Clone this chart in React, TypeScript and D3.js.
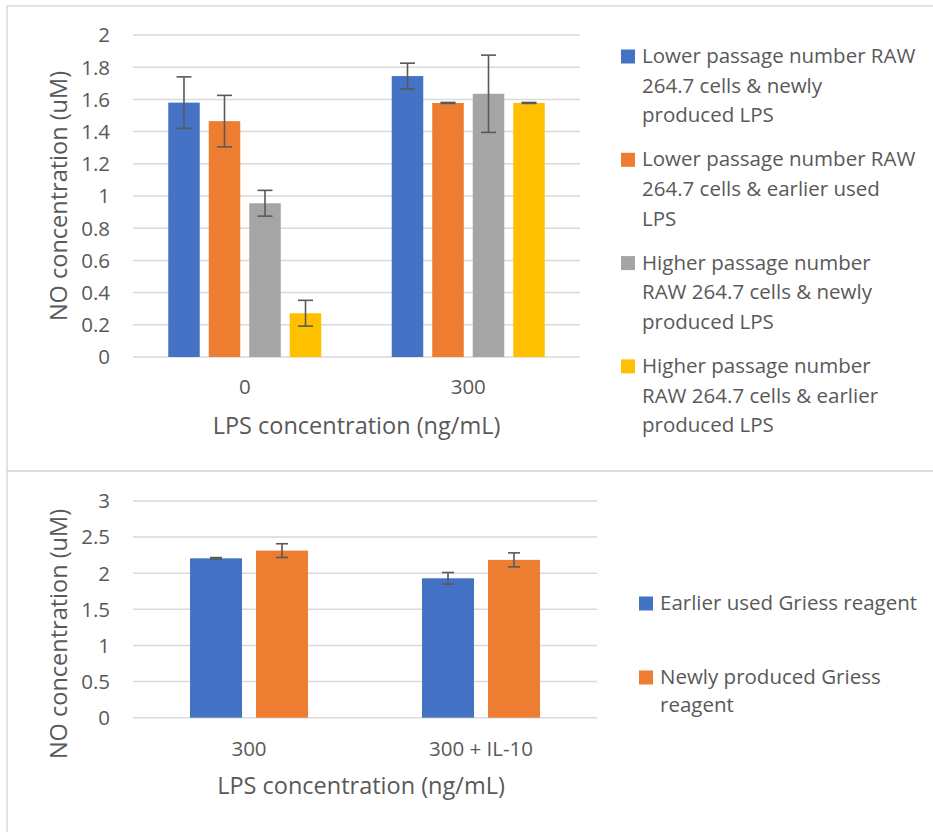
import React from "react";
import { scaleBand, scaleLinear } from "d3";

// top chart
const topCategories = ["0", "300"];
const topSeries = [
  "Lower passage number RAW 264.7 cells & newly produced LPS",
  "Lower passage number RAW 264.7 cells & earlier used LPS",
  "Higher passage number RAW 264.7 cells & newly produced LPS",
  "Higher passage number RAW 264.7 cells & earlier produced LPS",
];
const topLegendLines = [
  ["Lower passage number RAW", "264.7 cells & newly", "produced LPS"],
  ["Lower passage number RAW", "264.7 cells & earlier used", "LPS"],
  ["Higher passage number", "RAW 264.7 cells & newly", "produced LPS"],
  ["Higher passage number", "RAW 264.7 cells & earlier", "produced LPS"],
];
const topValues = [
  [1.58, 1.745],
  [1.465, 1.578],
  [0.955, 1.635],
  [0.272, 1.578],
];
const topErrors = [
  [0.16, 0.08],
  [0.16, 0.003],
  [0.08, 0.24],
  [0.08, 0.003],
];
const topTicks = [0, 0.2, 0.4, 0.6, 0.8, 1, 1.2, 1.4, 1.6, 1.8, 2];

// bottom chart
const bottomCategories = ["300", "300 + IL-10"];
const bottomSeries = ["Earlier used Griess reagent", "Newly produced Griess reagent"];
const bottomLegendLines = [["Earlier used Griess reagent"], ["Newly produced Griess", "reagent"]];
const bottomValues = [
  [2.207, 1.93],
  [2.313, 2.185],
];
const bottomErrors = [
  [0.01, 0.08],
  [0.095, 0.097],
];
const bottomTicks = [0, 0.5, 1, 1.5, 2, 2.5, 3];

const colors = ["#4472C4", "#ED7D31", "#A5A5A5", "#FFC000"];
const textColor = "#595959";
const gridColor = "#D9D9D9";
const font = "'Open Sans', sans-serif";
const fs = 20.5; // ticks, categories, legend
const titleFs = 23.5; // axis titles

function BarPanel({ categories, series, values, errors, ticks, yMax, left, right, top, bottom, capW, pi, po, yTitleY, catY, xTitleY, xTitleX }) {
  const x0 = scaleBand().domain(categories).range([left, right]).padding(0);
  const x1 = scaleBand().domain(series).range([0, x0.bandwidth()]).paddingInner(pi).paddingOuter(po);
  const y = scaleLinear().domain([0, yMax]).range([bottom, top]);
  return (
    <g>
      {ticks.map((t) => (
        <g key={t}>
          <line x1={left} x2={right} y1={y(t)} y2={y(t)} stroke={gridColor} strokeWidth={1.5} />
          <text x={110} y={y(t)} dy="0.36em" textAnchor="end" fontSize={fs} fill={textColor}>
            {t}
          </text>
        </g>
      ))}
      {series.map((s, si) =>
        categories.map((c, ci) => {
          const bx = x0(c) + x1(s);
          const v = values[si][ci];
          const e = errors[si][ci];
          const cx = bx + x1.bandwidth() / 2;
          return (
            <g key={s + c}>
              <rect x={bx} y={y(v)} width={x1.bandwidth()} height={y(0) - y(v)} fill={colors[si]} />
              <line x1={cx} x2={cx} y1={y(v + e)} y2={y(v - e)} stroke={textColor} strokeWidth={1.6} />
              <line x1={cx - capW / 2} x2={cx + capW / 2} y1={y(v + e)} y2={y(v + e)} stroke={textColor} strokeWidth={1.6} />
              <line x1={cx - capW / 2} x2={cx + capW / 2} y1={y(v - e)} y2={y(v - e)} stroke={textColor} strokeWidth={1.6} />
            </g>
          );
        })
      )}
      {categories.map((c) => (
        <text key={c} x={x0(c) + x0.bandwidth() / 2} y={catY} textAnchor="middle" fontSize={fs} fill={textColor}>
          {c}
        </text>
      ))}
      <text x={xTitleX} y={xTitleY} textAnchor="middle" fontSize={titleFs} fill={textColor}>
        LPS concentration (ng/mL)
      </text>
      <text transform={`translate(67,${yTitleY}) rotate(-90)`} textAnchor="middle" fontSize={titleFs} fill={textColor}>
        NO concentration (uM)
      </text>
    </g>
  );
}

function Legend({ lines, x, y0, step, lineH }) {
  return (
    <g>
      {lines.map((ls, i) => {
        const base = y0 + i * step;
        return (
          <g key={i}>
            <rect x={x} y={base - 13.5} width={14} height={14} fill={colors[i]} />
            {ls.map((l, j) => (
              <text key={j} x={x + 21} y={base + j * lineH} fontSize={fs} fill={textColor}>
                {l}
              </text>
            ))}
          </g>
        );
      })}
    </g>
  );
}

export default function App() {
  return (
    <svg
      width={933}
      height={832}
      style={{ position: "absolute", left: 0, top: 0, background: "#fff", fontFamily: font }}
    >
      <rect x={0} y={0} width={933} height={832} fill="#fff" />
      <rect x={7} y={6} width={940} height={465} fill="none" stroke={gridColor} strokeWidth={1.5} />
      <rect x={7} y={471} width={940} height={400} fill="none" stroke={gridColor} strokeWidth={1.5} />
      <BarPanel
        categories={topCategories}
        series={topSeries}
        values={topValues}
        errors={topErrors}
        ticks={topTicks}
        yMax={2}
        left={133}
        right={580}
        top={35}
        bottom={357}
        capW={15}
        pi={0.222}
        po={0.87}
        yTitleY={196}
        catY={394}
        xTitleY={434}
        xTitleX={356.5}
      />
      <Legend lines={topLegendLines} x={621} y0={63} step={103.3} lineH={29.7} />
      <BarPanel
        categories={bottomCategories}
        series={bottomSeries}
        values={bottomValues}
        errors={bottomErrors}
        ticks={bottomTicks}
        yMax={3}
        left={133}
        right={597}
        top={501}
        bottom={717.7}
        capW={12}
        pi={0.212}
        po={0.864}
        yTitleY={634}
        catY={756}
        xTitleY={794}
        xTitleX={361}
      />
      <Legend lines={bottomLegendLines} x={639} y0={610} step={74} lineH={28} />
    </svg>
  );
}
